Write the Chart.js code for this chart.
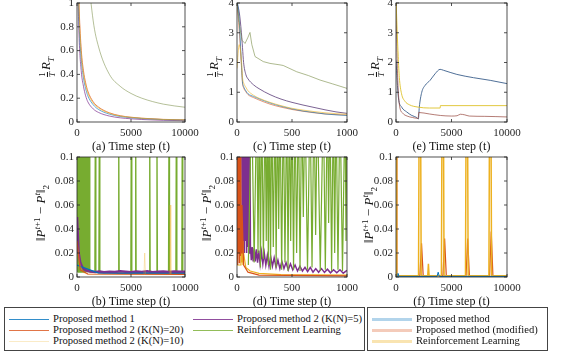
<!DOCTYPE html>
<html>
<head>
<meta charset="utf-8">
<script src="https://cdn.jsdelivr.net/npm/chart.js@4.4.1/dist/chart.umd.min.js"></script>
<style>
body { margin: 0; background: #fff; font-family: 'Liberation Serif', serif; color: #111; }
#page { position: relative; width: 567px; height: 352px; overflow: hidden; }
canvas { position: absolute; left: 0; top: 0; }
.ylab { position: absolute; transform: translate(-50%, -50%) rotate(-90deg); white-space: nowrap; font-size: 13px; line-height: 13px; }
.fr { display: inline-block; vertical-align: middle; text-align: center; font-size: 9px; line-height: 9px; margin-right: 2px; }
.fr span { display: block; }
.fr .den { border-top: 0.8px solid #111; font-style: italic; }
.ylab sub, .ylab sup { font-size: 9px; }
.legend { position: absolute; border: 1px solid #444; background: #fff; font-size: 10.6px; }
.item { position: absolute; white-space: nowrap; line-height: 11px; }
.item i { display: inline-block; vertical-align: middle; width: 40px; margin-right: 4px; }
</style>
</head>
<body>
<div id="page">
  <canvas id="pa" width="567" height="352"></canvas>
  <canvas id="pb" width="567" height="352"></canvas>
  <canvas id="pc" width="567" height="352"></canvas>
  <canvas id="pd" width="567" height="352"></canvas>
  <canvas id="pe" width="567" height="352"></canvas>
  <canvas id="pf" width="567" height="352"></canvas>

  <div class="ylab" style="left:48px; top:67px;"><span class="fr"><span>1</span><span class="den">T</span></span><i>R</i><sub><i>T</i></sub></div>
  <div class="ylab" style="left:216px; top:67px;"><span class="fr"><span>1</span><span class="den">T</span></span><i>R</i><sub><i>T</i></sub></div>
  <div class="ylab" style="left:377px; top:67px;"><span class="fr"><span>1</span><span class="den">T</span></span><i>R</i><sub><i>T</i></sub></div>
  <div class="ylab" style="left:42px; top:213px;">‖<i>P</i><sup><i>t</i>+1</sup> − <i>P</i><sup><i>t</i></sup>‖<sub>2</sub></div>
  <div class="ylab" style="left:208px; top:213px;">‖<i>P</i><sup><i>t</i>+1</sup> − <i>P</i><sup><i>t</i></sup>‖<sub>2</sub></div>
  <div class="ylab" style="left:370px; top:215px;">‖<i>P</i><sup><i>t</i>+1</sup> − <i>P</i><sup><i>t</i></sup>‖<sub>2</sub></div>

  <div class="legend" style="left:4px; top:307px; width:359px; height:42px;">
    <div class="item" style="left:4px; top:5px;"><i style="border-top:1px solid rgba(0,114,189,0.8)"></i>Proposed method 1</div>
    <div class="item" style="left:4px; top:16px;"><i style="border-top:1px solid rgba(217,83,25,0.8)"></i>Proposed method 2 (K(N)=20)</div>
    <div class="item" style="left:4px; top:27px;"><i style="border-top:1px solid rgba(237,177,32,0.25)"></i>Proposed method 2 (K(N)=10)</div>
    <div class="item" style="left:188px; top:5px;"><i style="border-top:1px solid rgba(126,47,142,0.85)"></i>Proposed method 2 (K(N)=5)</div>
    <div class="item" style="left:188px; top:16px;"><i style="border-top:1px solid rgba(119,172,48,0.8)"></i>Reinforcement Learning</div>
  </div>
  <div class="legend" style="left:367px; top:307px; width:179px; height:42px;">
    <div class="item" style="left:4px; top:5px;"><i style="border-top:3px solid rgba(0,114,189,0.3)"></i>Proposed method</div>
    <div class="item" style="left:4px; top:16px;"><i style="border-top:3px solid rgba(217,83,25,0.3)"></i>Proposed method (modified)</div>
    <div class="item" style="left:4px; top:27px;"><i style="border-top:3px solid rgba(237,177,32,0.35)"></i>Reinforcement Learning</div>
  </div>
</div>

<script>
// tick values and labels
const xTicksLong = [0, 5000, 10000];
const xLabelsLong = ['0', '5000', '10000'];
const xTicksShort = [0, 500, 1000];
const xLabelsShort = ['0', '500', '1000'];
const yTicksA = [0, 0.2, 0.4, 0.6, 0.8, 1];
const yLabelsA = ['0', '0.2', '0.4', '0.6', '0.8', '1'];
const yTicksR = [0, 1, 2, 3, 4];
const yLabelsR = ['0', '1', '2', '3', '4'];
const yTicksP = [0, 0.02, 0.04, 0.06, 0.08, 0.1];
const yLabelsP = ['0', '0.02', '0.04', '0.06', '0.08', '0.1'];

// (a) regret, 10000 steps
const aX = [0, 200, 400, 600, 800, 1000, 1500, 2000, 3000, 4000, 5000, 6000, 8000, 10000];
const aBlue = [1.5, 0.82, 0.52, 0.37, 0.28, 0.22, 0.145, 0.105, 0.066, 0.046, 0.036, 0.029, 0.02, 0.016];
const aRed = [1.6, 0.95, 0.6, 0.43, 0.33, 0.26, 0.17, 0.125, 0.077, 0.053, 0.04, 0.032, 0.022, 0.018];
const aYellow = [1.55, 0.9, 0.56, 0.4, 0.31, 0.245, 0.16, 0.118, 0.073, 0.05, 0.039, 0.031, 0.021, 0.017];
const aPurple = [1.4, 0.7, 0.42, 0.3, 0.22, 0.17, 0.11, 0.08, 0.05, 0.035, 0.027, 0.021, 0.014, 0.011];
const aGreen = [6, 4, 2.8, 2.0, 1.6, 1.3, 0.85, 0.63, 0.4, 0.3, 0.24, 0.2, 0.15, 0.124];

// (b) policy change, 10000 steps
const bGreenX = [0, 40, 85, 120, 170, 210, 260, 300, 345, 390, 430, 480, 520, 565, 610, 650, 700, 740, 790, 830, 880, 920, 970, 1010, 1060, 1100, 1150, 1180, 1200,
  1650, 1700, 1750, 2020, 2070, 2120, 3810, 3860, 3910, 4980, 5030, 5080, 5380, 5430, 5480, 6680, 6730, 6780, 7350, 7400, 7450, 8470, 8520, 8570, 9150, 9200, 9250, 9700, 9750, 9800, 10000];
const bGreenY = [0.15, 0.004, 0.15, 0.004, 0.15, 0.004, 0.15, 0.004, 0.15, 0.004, 0.15, 0.004, 0.15, 0.004, 0.15, 0.004, 0.15, 0.004, 0.15, 0.004, 0.15, 0.004, 0.15, 0.004, 0.15, 0.004, 0.15, 0.004, 0.004,
  0.004, 0.15, 0.004, 0.004, 0.15, 0.004, 0.004, 0.15, 0.004, 0.004, 0.15, 0.004, 0.004, 0.15, 0.004, 0.004, 0.15, 0.004, 0.004, 0.15, 0.004, 0.004, 0.15, 0.004, 0.004, 0.15, 0.004, 0.004, 0.15, 0.004, 0.004];
const bPurpleX = [0, 150, 300, 500, 700, 1000, 1300, 1700, 2100, 2500, 3000, 3500, 4000, 4500, 5000, 5500, 6000, 6500, 7000, 7500, 8000, 8500, 9000, 9500, 10000];
const bPurpleY = [0.05, 0.02, 0.012, 0.008, 0.006, 0.005, 0.0045, 0.0042, 0.0046, 0.004, 0.0044, 0.0041, 0.0047, 0.0043, 0.0039, 0.0045, 0.0042, 0.0048, 0.004, 0.0044, 0.0046, 0.0041, 0.0045, 0.0043, 0.0044];
const bBlueX = [0, 2000, 4000, 6000, 8000, 10000];
const bBlueY = [0.01, 0.0032, 0.003, 0.0033, 0.0031, 0.003];
const bYellowX = [0, 500, 1000, 6200, 6270, 6340, 8550, 8620, 8690, 10000];
const bYellowY = [0.02, 0.004, 0.002, 0.002, 0.02, 0.002, 0.002, 0.06, 0.002, 0.002];
const bRedX = [0, 300, 1000, 10000];
const bRedY = [0.03, 0.006, 0.0025, 0.0022];

// (c) regret, 1000 steps
const cX = [0, 20, 40, 50, 60, 80, 100, 150, 200, 300, 400, 500, 600, 700, 800, 900, 1000];
const cBlue = [4.2, 3.4, 2.0, 1.35, 1.2, 1.05, 0.95, 0.86, 0.78, 0.64, 0.53, 0.44, 0.37, 0.32, 0.27, 0.24, 0.22];
const cRed = [4.0, 3.1, 1.9, 1.3, 1.15, 1.02, 0.92, 0.82, 0.74, 0.6, 0.5, 0.42, 0.36, 0.31, 0.27, 0.25, 0.23];
const cYellow = [1.8, 2.6, 2.1, 1.5, 1.32, 1.17, 1.05, 0.9, 0.8, 0.66, 0.55, 0.46, 0.4, 0.35, 0.31, 0.28, 0.26];
const cPurple = [4.0, 3.7, 3.0, 2.5, 2.0, 1.6, 1.45, 1.25, 1.12, 0.92, 0.77, 0.66, 0.57, 0.49, 0.41, 0.34, 0.29];
const cGreenX = [0, 10, 25, 45, 73, 100, 118, 135, 164, 239, 300, 391, 420, 542, 650, 755, 870, 1000];
const cGreenY = [4.0, 3.7, 3.2, 2.75, 2.64, 2.85, 3.01, 2.6, 2.2, 2.03, 1.97, 1.92, 1.9, 1.69, 1.56, 1.41, 1.28, 1.13];

// (d) policy change, 1000 steps
const dOrangeX = [0, 4, 8, 12, 16, 20, 24, 28, 32, 38, 45, 60, 100, 200, 1000];
const dOrangeY = [0.15, 0.01, 0.15, 0.02, 0.15, 0.012, 0.15, 0.018, 0.15, 0.02, 0.06, 0.01, 0.004, 0.0015, 0.001];
const dYellowX = [0, 30, 36, 42, 48, 54, 60, 80, 120, 200, 400, 1000];
const dYellowY = [0.01, 0.01, 0.035, 0.012, 0.03, 0.01, 0.02, 0.008, 0.005, 0.003, 0.002, 0.0015];
const dPurpleX = [42, 48, 53, 58, 63, 68, 73, 78, 83, 88, 93, 98, 104, 110, 116,
  122, 130, 138, 147, 156, 166, 176, 187, 198, 210, 222, 235, 248, 262, 276, 291, 306, 322, 338, 355, 372, 390, 408, 427, 446, 466, 486, 507, 528, 550, 572, 595, 618, 642, 666, 691, 716, 742, 768, 795, 822, 850, 878, 907, 936, 966, 1000];
const dPurpleY = [0.15, 0.02, 0.15, 0.025, 0.15, 0.02, 0.15, 0.03, 0.15, 0.02, 0.15, 0.025, 0.15, 0.02, 0.15,
  0.026, 0.014, 0.025, 0.013, 0.024, 0.013, 0.023, 0.012, 0.022, 0.011, 0.021, 0.011, 0.02, 0.01, 0.018, 0.009, 0.017, 0.009, 0.016, 0.008, 0.014, 0.007, 0.013, 0.007, 0.012, 0.006, 0.011, 0.006, 0.01, 0.005, 0.009, 0.005, 0.008, 0.0045, 0.008, 0.004, 0.007, 0.004, 0.007, 0.0038, 0.0065, 0.0035, 0.006, 0.0035, 0.006, 0.0032, 0.0055];
const dGreenX = [103, 133, 156, 179, 191, 203, 213, 224, 240, 255, 266, 276, 285, 294, 305, 315, 330, 345, 356, 367, 379, 391, 406, 421, 436, 452, 464, 476, 488, 500,
  514, 527, 542, 558, 573, 588, 603, 618, 641, 664, 682, 700, 715, 730, 757, 785, 803, 821, 833, 845, 860, 876, 888, 900, 918, 936, 959, 982, 991, 1000];
const dGreenY = [0.01, 0.15, 0.012, 0.15, 0.02, 0.15, 0.008, 0.15, 0.015, 0.15, 0.03, 0.15, 0.01, 0.15, 0.006, 0.15, 0.025, 0.15, 0.008, 0.15, 0.04, 0.15, 0.006, 0.15, 0.012, 0.15, 0.005, 0.15, 0.03, 0.15,
  0.006, 0.15, 0.02, 0.15, 0.005, 0.15, 0.05, 0.15, 0.006, 0.15, 0.008, 0.15, 0.035, 0.15, 0.005, 0.15, 0.006, 0.15, 0.045, 0.15, 0.005, 0.15, 0.02, 0.15, 0.006, 0.15, 0.005, 0.15, 0.03, 0.15];

// (e) regret, changing environment
const eBlueX = [0, 210, 510, 960, 1420, 1870, 2015, 2100, 2320, 2620, 3070, 3520, 3970, 4270, 5480, 6980, 8490, 10000];
const eBlueY = [2.07, 0.84, 0.5, 0.34, 0.22, 0.15, 0.1, 0.5, 1.0, 1.23, 1.4, 1.62, 1.77, 1.74, 1.6, 1.49, 1.4, 1.29];
const eOrangeX = [0, 50, 150, 300, 600, 1000, 1500, 2000, 2050, 3000, 4000, 5000, 5500, 5800, 6200, 6600, 8000, 10000];
const eOrangeY = [4.2, 3.0, 1.5, 0.6, 0.3, 0.2, 0.15, 0.12, 0.32, 0.27, 0.22, 0.2, 0.21, 0.26, 0.24, 0.2, 0.19, 0.17];
const eYellowX = [0, 100, 200, 300, 500, 800, 1200, 2000, 3000, 3980, 4000, 10000];
const eYellowY = [4.2, 3.1, 2.2, 1.5, 0.95, 0.7, 0.58, 0.5, 0.47, 0.47, 0.55, 0.55];

// (f) policy change, changing environment
const fYellowX = [0, 60, 200, 2030, 2150, 2270, 2860, 2920, 2980, 4090, 4210, 4330, 6260, 6380, 6500, 8370, 8490, 8610, 10000];
const fYellowY = [0.3, 0.001, 0.001, 0.001, 0.3, 0.001, 0.001, 0.011, 0.001, 0.001, 0.3, 0.001, 0.001, 0.3, 0.001, 0.001, 0.3, 0.001, 0.001];
const fOrangeX = [0, 80, 2150, 2300, 2450, 4230, 4380, 4530, 6310, 6460, 6610, 8430, 8580, 8730, 10000];
const fOrangeY = [0.3, 0.001, 0.001, 0.028, 0.001, 0.001, 0.032, 0.001, 0.001, 0.032, 0.001, 0.001, 0.038, 0.001, 0.001];
const fBlueX = [0, 100, 180, 260, 3700, 3800, 3900, 10000];
const fBlueY = [0.0005, 0.0005, 0.003, 0.0005, 0.0005, 0.004, 0.0005, 0.0005];

const W = 567, H = 352;
const YW = 40, XH = 32;
const serif = "'Liberation Serif', 'Times New Roman', serif";

const pts = (xs, ys) => xs.map((x, i) => ({ x: x, y: ys[i] }));
const line = (xs, ys, color, width, smooth) => ({
  data: pts(xs, ys),
  borderColor: color,
  borderWidth: width || 1,
  cubicInterpolationMode: smooth ? 'monotone' : 'default',
  pointRadius: 0
});

// box round the plot area and inward ticks, like the original figure
const frame = {
  id: 'frame',
  afterDatasetsDraw(chart) {
    const { ctx, chartArea: a, scales: { x, y } } = chart;
    ctx.save();
    ctx.strokeStyle = '#262626';
    ctx.lineWidth = 0.8;
    ctx.strokeRect(a.left, a.top, a.width, a.height);
    ctx.beginPath();
    x.ticks.forEach(t => {
      const px = x.getPixelForValue(t.value);
      ctx.moveTo(px, a.bottom); ctx.lineTo(px, a.bottom - 3);
      ctx.moveTo(px, a.top); ctx.lineTo(px, a.top + 3);
    });
    y.ticks.forEach(t => {
      const py = y.getPixelForValue(t.value);
      ctx.moveTo(a.left, py); ctx.lineTo(a.left + 3, py);
      ctx.moveTo(a.right, py); ctx.lineTo(a.right - 3, py);
    });
    ctx.stroke();
    ctx.restore();
  }
};

const panel = (id, box, xt, xl, yt, yl, caption, sets) => {
  new Chart(document.getElementById(id), {
    type: 'line',
    data: { datasets: sets },
    options: {
      responsive: false,
      animation: false,
      events: [],
      layout: { padding: { left: box[0] - YW, top: box[1], right: W - box[2], bottom: H - box[3] - XH } },
      plugins: { legend: { display: false }, tooltip: { enabled: false } },
      scales: {
        x: {
          type: 'linear', min: xt[0], max: xt[xt.length - 1],
          grid: { display: false, drawTicks: false }, border: { display: false },
          afterBuildTicks: s => { s.ticks = xt.map(v => ({ value: v })); },
          afterFit: s => { s.height = XH; s.paddingLeft = 0; s.paddingRight = 0; },
          ticks: { autoSkip: false, maxRotation: 0, padding: 5, color: '#262626', font: { family: serif, size: 11 }, callback: (v, i) => xl[i] },
          title: { display: true, text: caption, padding: 0, color: '#111', font: { family: serif, size: 12 } }
        },
        y: {
          type: 'linear', min: yt[0], max: yt[yt.length - 1],
          grid: { display: false, drawTicks: false }, border: { display: false },
          afterBuildTicks: s => { s.ticks = yt.map(v => ({ value: v })); },
          afterFit: s => { s.width = YW; s.paddingTop = 0; s.paddingBottom = 0; },
          ticks: { autoSkip: false, padding: 3, color: '#262626', font: { family: serif, size: 11 }, callback: (v, i) => yl[i] }
        }
      }
    },
    plugins: [frame]
  });
};

const BLUE = '#0072BD', RED = '#D95319', YEL = '#EDB120', PUR = '#7E2F8E', GRN = '#77AC30';

panel('pa', [77, 3, 185, 122], xTicksLong, xLabelsLong, yTicksA, yLabelsA, '(a) Time step (t)', [
  line(aX, aGreen, 'rgba(120,140,70,0.55)', 1, true),
  line(aX, aYellow, 'rgba(237,177,32,0.6)', 1, true),
  line(aX, aBlue, 'rgba(0,114,189,0.6)', 1, true),
  line(aX, aRed, 'rgba(217,83,25,0.7)', 1, true),
  line(aX, aPurple, 'rgba(126,47,142,0.7)', 1, true)
]);

panel('pb', [77, 157, 185, 277], xTicksLong, xLabelsLong, yTicksP, yLabelsP, '(b) Time step (t)', [
  line(bRedX, bRedY, RED, 1.2),
  line(bYellowX, bYellowY, 'rgba(237,177,32,0.3)', 1),
  line(bBlueX, bBlueY, BLUE, 1.2),
  line(bPurpleX, bPurpleY, PUR, 2.5),
  line(bGreenX, bGreenY, GRN, 1.2)
]);

panel('pc', [237, 3, 347, 122], xTicksShort, xLabelsShort, yTicksR, yLabelsR, '(c) Time step (t)', [
  line(cGreenX, cGreenY, 'rgba(120,140,70,0.6)', 1),
  line(cX, cYellow, 'rgba(237,177,32,0.6)', 1, true),
  line(cX, cBlue, 'rgba(0,114,189,0.6)', 1, true),
  line(cX, cRed, 'rgba(217,83,25,0.6)', 1, true),
  line(cX, cPurple, 'rgba(90,60,120,0.8)', 1, true)
]);

panel('pd', [237, 157, 347, 277], xTicksShort, xLabelsShort, yTicksP, yLabelsP, '(d) Time step (t)', [
  line(dOrangeX, dOrangeY, RED, 1.2),
  line(dYellowX, dYellowY, YEL, 1.2),
  line(dGreenX, dGreenY, GRN, 1.2),
  line(dPurpleX, dPurpleY, PUR, 1.5)
]);

panel('pe', [396, 3, 507, 122], xTicksLong, xLabelsLong, yTicksR, yLabelsR, '(e) Time step (t)', [
  line(eYellowX, eYellowY, 'rgba(220,190,30,0.85)', 1, true),
  line(eOrangeX, eOrangeY, 'rgba(150,70,60,0.7)', 1, true),
  line(eBlueX, eBlueY, 'rgba(60,95,140,0.9)', 1, true)
]);

panel('pf', [396, 157, 507, 277], xTicksLong, xLabelsLong, yTicksP, yLabelsP, '(f) Time step (t)', [
  line(fBlueX, fBlueY, BLUE, 1),
  line(fYellowX, fYellowY, YEL, 1.5),
  line(fOrangeX, fOrangeY, RED, 1.2)
]);
</script>
</body>
</html>
